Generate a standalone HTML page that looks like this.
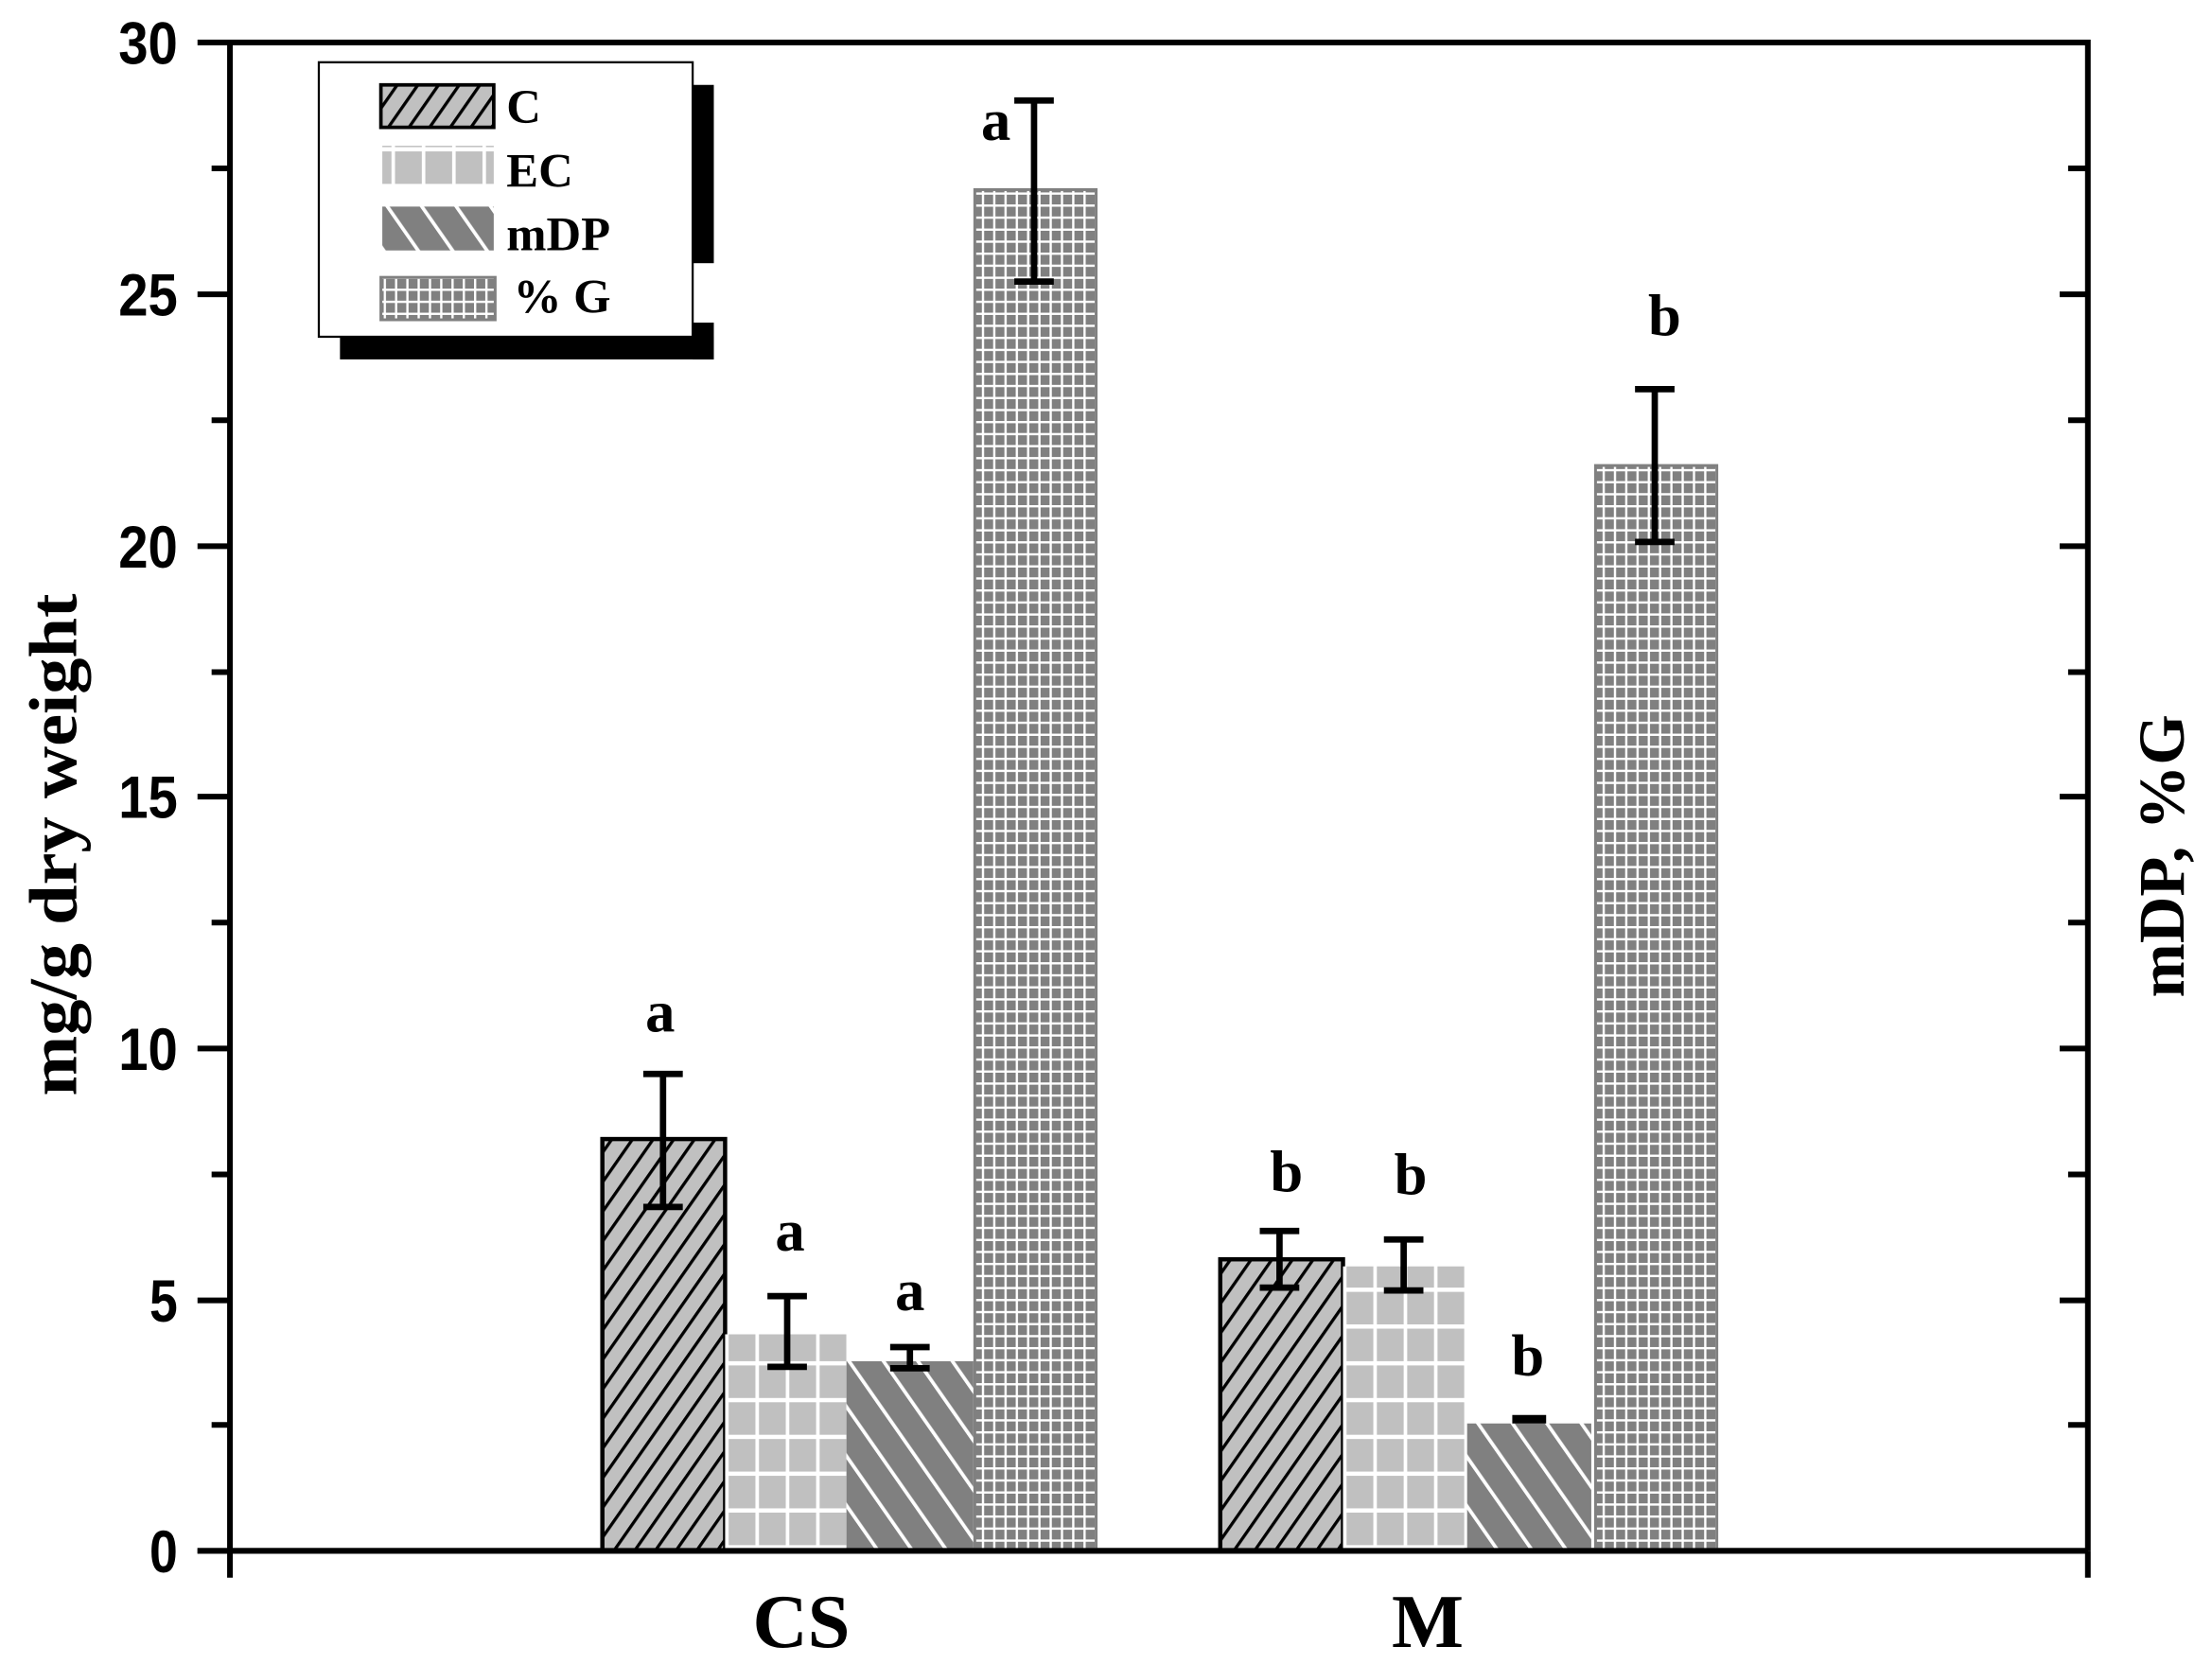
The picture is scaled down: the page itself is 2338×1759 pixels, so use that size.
<!DOCTYPE html>
<html><head><meta charset="utf-8"><style>html,body{margin:0;padding:0;background:#fff}svg{display:block}</style></head>
<body>
<svg width="2338" height="1759" viewBox="0 0 1568 1176" preserveAspectRatio="none" xmlns="http://www.w3.org/2000/svg">
<defs>
<pattern id="pC" width="12" height="12" patternUnits="userSpaceOnUse" patternTransform="rotate(35)">
<rect width="12" height="12" fill="#c0c0c0"/><rect width="2.2" height="12" fill="#000"/></pattern>
<pattern id="pEC" width="21.5" height="26" patternUnits="userSpaceOnUse" x="514" y="0">
<rect width="21.5" height="26" fill="#c0c0c0"/><rect width="2.5" height="26" fill="#fff"/><rect width="21.5" height="3" fill="#fff"/></pattern>
<pattern id="pEC2" width="21.5" height="26" patternUnits="userSpaceOnUse" x="952" y="0">
<rect width="21.5" height="26" fill="#c0c0c0"/><rect width="2.5" height="26" fill="#fff"/><rect width="21.5" height="3" fill="#fff"/></pattern>
<pattern id="pM" width="20" height="20" patternUnits="userSpaceOnUse" patternTransform="rotate(-35)">
<rect width="20" height="20" fill="#808080"/><rect width="2.5" height="20" fill="#fff"/></pattern>
<pattern id="pG" width="8" height="8.5" patternUnits="userSpaceOnUse">
<rect width="8" height="8.5" fill="#808080"/><rect width="1.6" height="8.5" fill="#fff"/><rect width="8" height="1.6" fill="#fff"/></pattern>
</defs>
<g fill="none" stroke="#000" stroke-width="4">
<path d="M163 30V1096M140 30H1480V1096M140 1096H1480"/>
<path d="M140 208H163M140 386H163M140 563H163M140 741H163M140 919H163M150 119H163M150 297H163M150 475H163M150 652H163M150 830H163M150 1007H163"/>
<path d="M1460 208H1480M1460 386H1480M1460 563H1480M1460 741H1480M1460 919H1480M1466 119H1480M1466 297H1480M1466 475H1480M1466 652H1480M1466 830H1480M1466 1007H1480"/>
<path d="M163 1096V1115M1480 1096V1115"/>
</g>
<g font-family="Liberation Sans, sans-serif" font-weight="bold" font-size="42" text-anchor="end">
<text x="126" y="45" textLength="42" lengthAdjust="spacingAndGlyphs">30</text>
<text x="126" y="223" textLength="42" lengthAdjust="spacingAndGlyphs">25</text>
<text x="126" y="401" textLength="42" lengthAdjust="spacingAndGlyphs">20</text>
<text x="126" y="578" textLength="42" lengthAdjust="spacingAndGlyphs">15</text>
<text x="126" y="756" textLength="42" lengthAdjust="spacingAndGlyphs">10</text>
<text x="126" y="934" textLength="20" lengthAdjust="spacingAndGlyphs">5</text>
<text x="126" y="1111" textLength="20" lengthAdjust="spacingAndGlyphs">0</text>
</g>
<g font-family="Liberation Serif, serif" font-weight="bold">
<text transform="translate(54,597) rotate(-90)" font-size="48" text-anchor="middle" textLength="355" lengthAdjust="spacingAndGlyphs">mg/g dry weight</text>
<text transform="translate(1548,605) rotate(-90)" font-size="46" text-anchor="middle" textLength="200" lengthAdjust="spacingAndGlyphs">mDP, %G</text>
<text x="568" y="1164" font-size="54" text-anchor="middle">CS</text>
<text x="1012" y="1164" font-size="54" text-anchor="middle">M</text>
</g>
<rect x="427" y="805" width="87" height="291" fill="url(#pC)" stroke="#000" stroke-width="3"/>
<rect x="514" y="943" width="86" height="153" fill="url(#pEC)"/>
<rect x="600" y="962" width="90" height="134" fill="url(#pM)"/>
<rect x="691" y="134" width="86" height="962" fill="url(#pG)" stroke="#808080" stroke-width="2"/>
<rect x="865" y="890" width="87" height="206" fill="url(#pC)" stroke="#000" stroke-width="3"/>
<rect x="952" y="895" width="86" height="201" fill="url(#pEC2)"/>
<rect x="1040" y="1006" width="88" height="90" fill="url(#pM)"/>
<rect x="1131" y="329" width="86" height="767" fill="url(#pG)" stroke="#808080" stroke-width="2"/>
<path d="M140 1096H1480" stroke="#000" stroke-width="4"/>
<g stroke="#000" stroke-width="4.5" fill="none">
<path d="M470 759V853M456 759H484M456 853H484"/>
<path d="M558 916V966M544 916H572M544 966H572"/>
<path d="M645 952V967M631 952H659M631 967H659"/>
<path d="M733 71V199M719 71H747M719 199H747"/>
<path d="M907 870V910M893 870H921M893 910H921"/>
<path d="M995 876V912M981 876H1009M981 912H1009"/>
<path d="M1072 1003H1096" stroke-width="6"/>
<path d="M1173 275V383M1159 275H1187M1159 383H1187"/>
</g>
<g font-family="Liberation Serif, serif" font-weight="bold" font-size="42" text-anchor="middle">
<text x="468" y="729">a</text><text x="560" y="884">a</text><text x="645" y="926">a</text><text x="706" y="99">a</text>
<text x="912" y="842">b</text><text x="1000" y="844">b</text><text x="1083" y="972">b</text><text x="1180" y="237">b</text>
</g>
<rect x="491" y="60" width="15" height="126" fill="#000"/>
<rect x="491" y="228" width="15" height="26" fill="#000"/>
<rect x="241" y="238" width="265" height="16" fill="#000"/>
<rect x="226" y="44" width="265" height="194" fill="#fff" stroke="#000" stroke-width="1.5"/>
<rect x="270" y="60" width="80" height="30" fill="url(#pC)" stroke="#000" stroke-width="2.5"/>
<rect x="271" y="103" width="79" height="27" fill="url(#pEC)"/>
<rect x="271" y="146" width="79" height="31" fill="url(#pM)"/>
<rect x="270" y="196" width="81" height="30" fill="url(#pG)" stroke="#808080" stroke-width="2"/>
<g font-family="Liberation Serif, serif" font-weight="bold" font-size="34">
<text x="359" y="87">C</text><text x="359" y="132">EC</text><text x="359" y="177">mDP</text><text x="364" y="221">% G</text>
</g>
</svg>
</body></html>
